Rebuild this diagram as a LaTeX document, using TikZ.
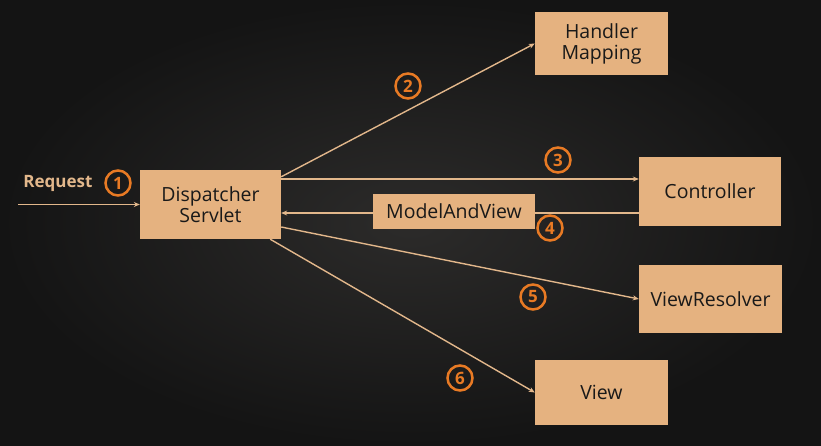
\documentclass[tikz,border=0pt]{standalone}
\usepackage{fontspec}
\setmainfont{Open Sans}
\usetikzlibrary{arrows.meta}
\definecolor{bgin}{RGB}{44,43,42}
\definecolor{bgout}{RGB}{20,20,20}
\definecolor{boxtan}{RGB}{229,178,128}
\definecolor{linetan}{RGB}{226,183,139}
\definecolor{steporange}{RGB}{232,122,36}
\begin{document}
\begin{tikzpicture}[x=1pt,y=-1pt,
    box/.style={fill=boxtan,inner sep=0pt,align=center,text=black!90,
      font=\fontsize{19.5}{22}\selectfont},
    num/.style={circle,draw=steporange,line width=2.5pt,minimum size=25pt,
      inner sep=0pt,text=steporange,font=\fontsize{17}{17}\selectfont\bfseries},
    flow/.style={draw=linetan,line width=1.4pt,-{Stealth[length=6pt,width=5pt]}}]
  % background
  \useasboundingbox (0,0) rectangle (821,446);
  \shade[inner color=bgin,outer color=bgout] (0,0) rectangle (821,446);

  % components
  \node[box,minimum width=141pt,minimum height=69pt] (ds) at (210.5,204.5)
    {Dispatcher\\[-1pt]Servlet};
  \node[box,minimum width=133pt,minimum height=63pt] (hm) at (601.5,43.5)
    {Handler\\[-1pt]Mapping};
  \node[box,minimum width=142pt,minimum height=69pt] (ctrl) at (710,191.5) {Controller};
  \node[box,minimum width=143pt,minimum height=68pt] (vr) at (710.5,299) {ViewResolver};
  \node[box,minimum width=133pt,minimum height=65pt] (view) at (601.5,392.5) {View};

  % request
  \coordinate (src) at (18,204.5);
  \node[font=\fontsize{17}{17}\selectfont\bfseries,text=linetan] (req) at (58,183) {Request};
  \draw[flow] (src) -- (ds.west);

  % flows
  \draw[flow] ([yshift=-7pt]ds.north east) -- (hm.west);
  \draw[flow] ([yshift=12.5pt]ctrl.west -| ds.east) -- ([yshift=12.5pt]ctrl.west);
  \draw[flow] ([yshift=-21.5pt]ctrl.west) -- ([yshift=-21.5pt]ctrl.west -| ds.east);
  \draw[flow] ([yshift=-22.5pt]ds.east) -- (vr.west);
  \draw[flow] ([xshift=-11pt]ds.south east) -- (view.west);
  \node[box,minimum width=162pt,minimum height=35pt] (mav) at (454,211.5) {ModelAndView};

  % steps
  \node[num] (n1) at (118,183) {1};
  \node[num] (n2) at (408,86) {2};
  \node[num] (n3) at (558,160) {3};
  \node[num] (n4) at (550,228) {4};
  \node[num] (n5) at (533,297) {5};
  \node[num] (n6) at (460,378) {6};
\end{tikzpicture}
\end{document}
